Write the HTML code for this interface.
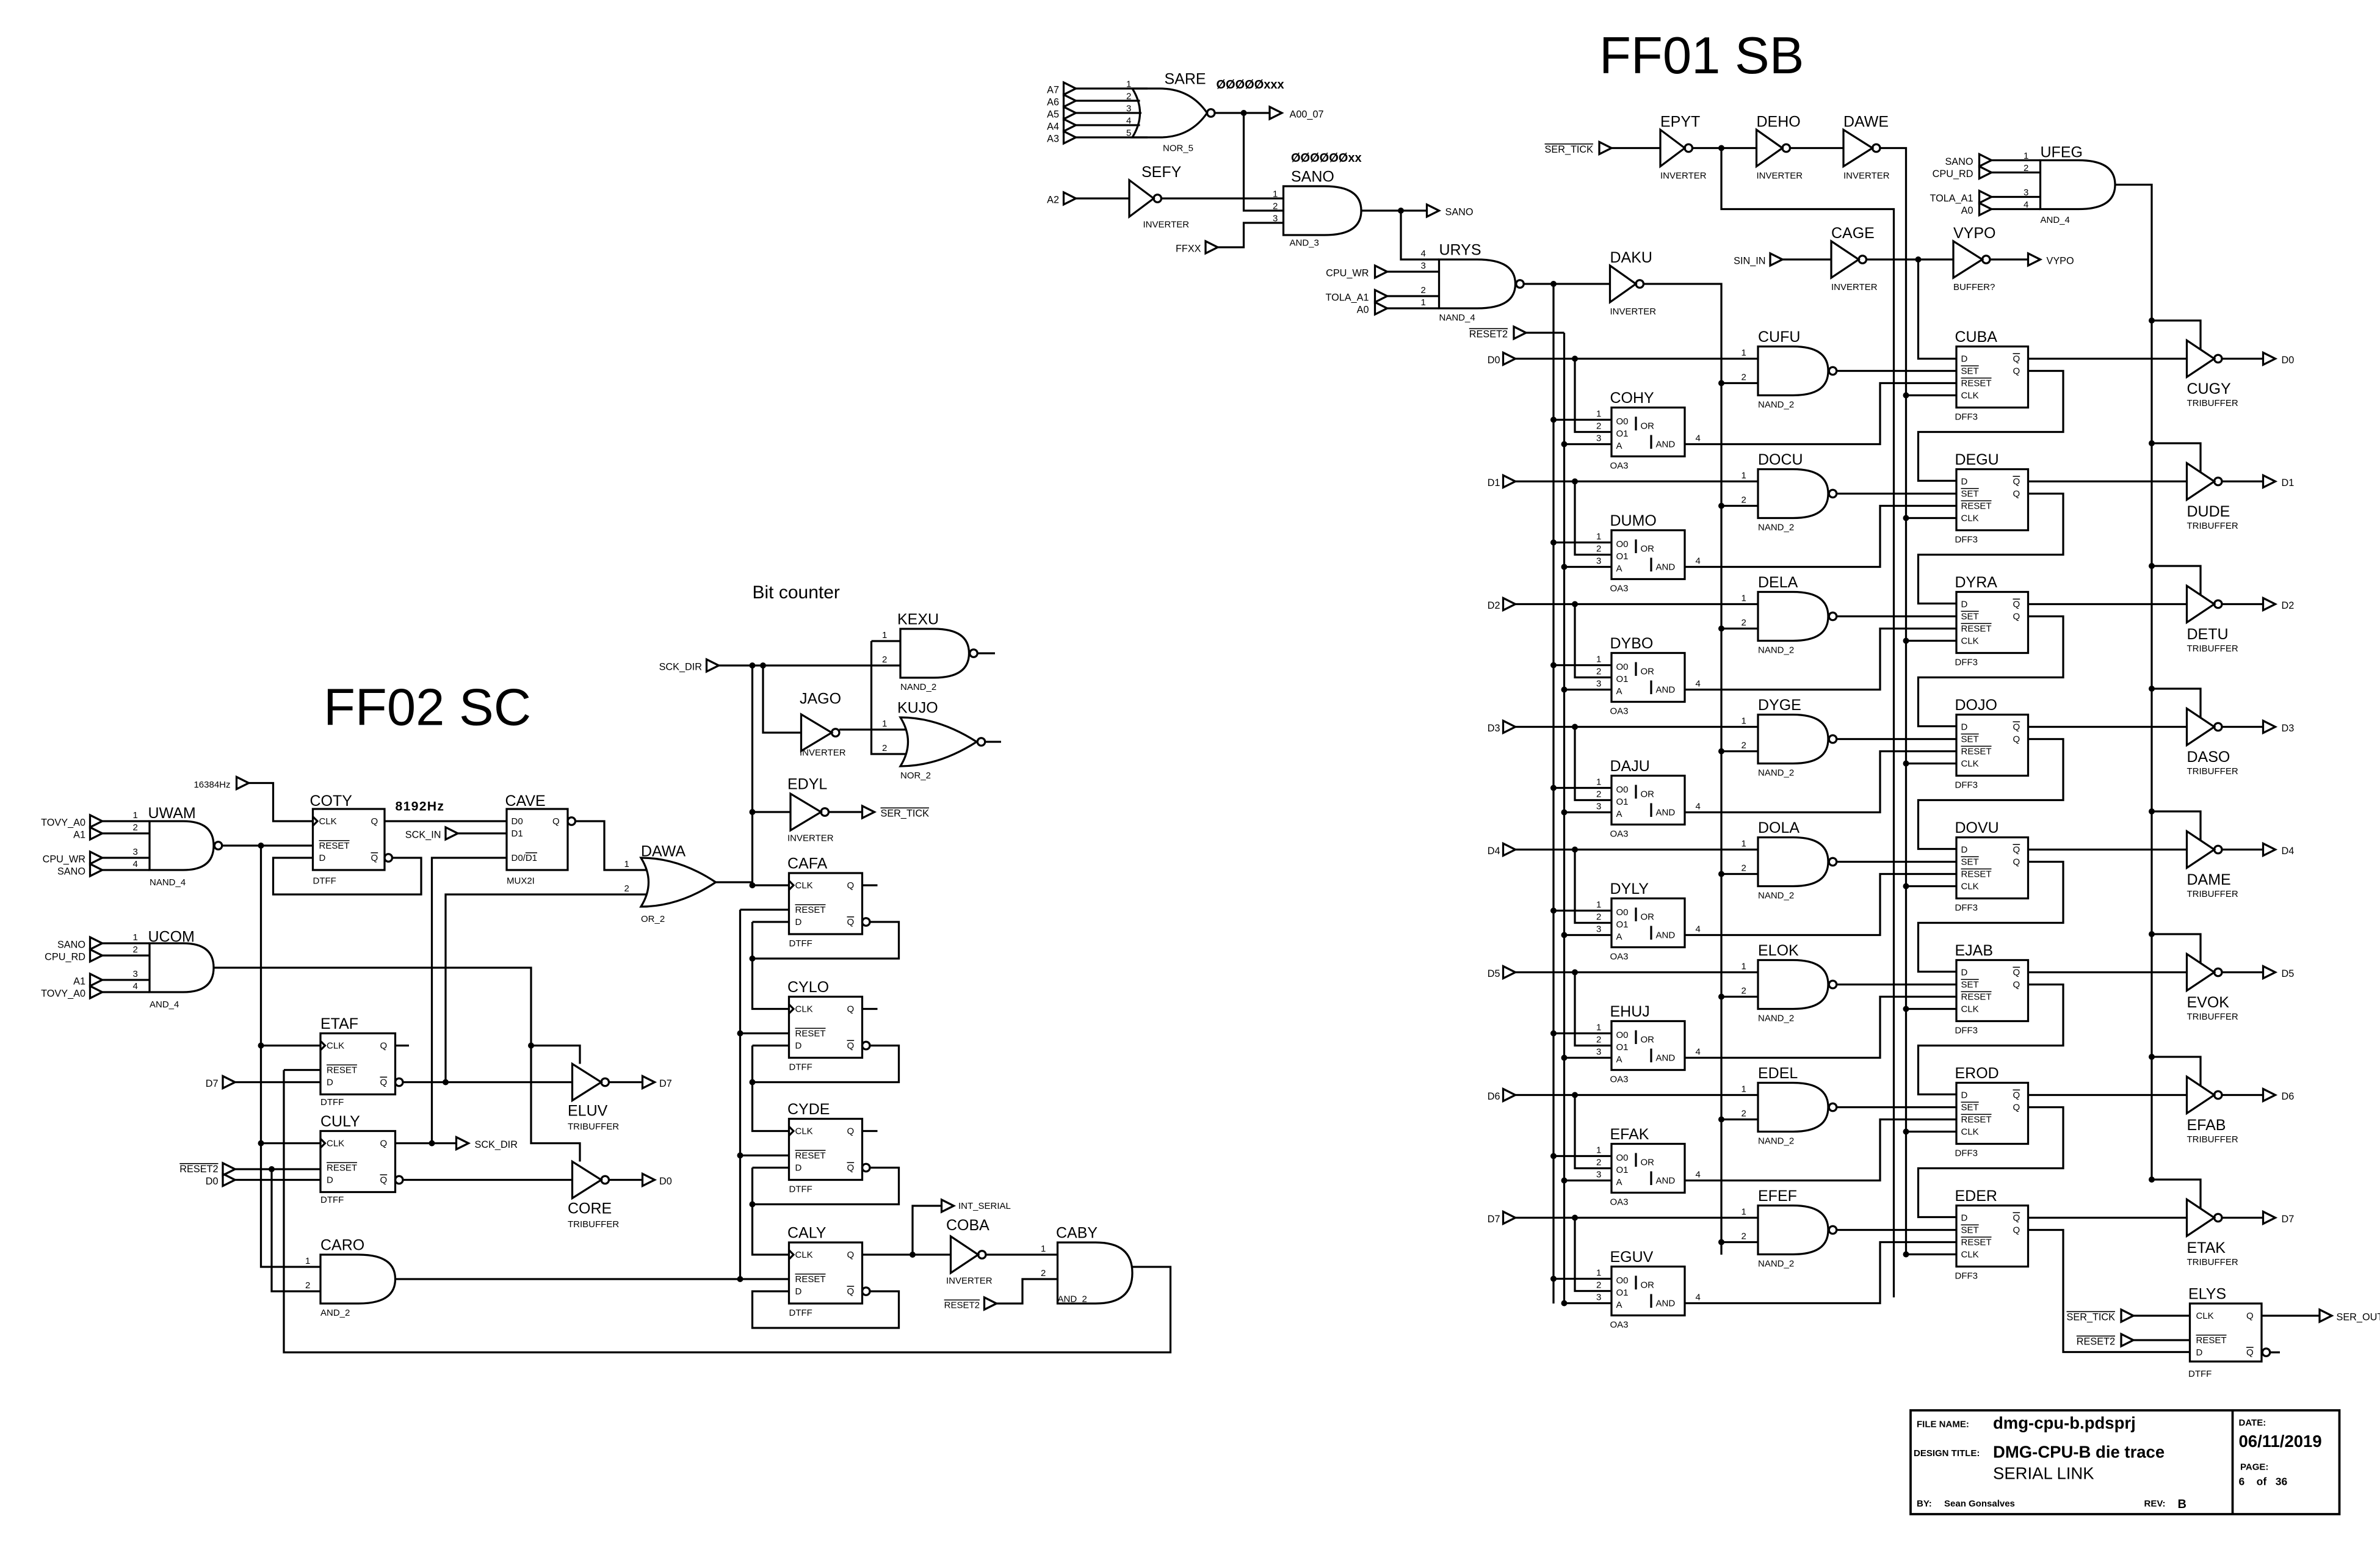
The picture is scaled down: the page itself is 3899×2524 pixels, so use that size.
<!DOCTYPE html>
<html><head><meta charset="utf-8"><style>
html,body{margin:0;padding:0;background:#fff;}
svg{display:block;}
.w path,.w rect,.w polygon,.w circle,.w line{stroke:#000;stroke-width:1.3;fill:none;}
.w circle.d{fill:#000;stroke:none;}
text{font-family:"Liberation Sans",sans-serif;fill:#000;stroke:none;}
.n{font-size:10px;}
.t{font-size:6px;}
.p{font-size:6.5px;}
.ov{text-decoration:overline;}
</style></head><body>
<svg class="w" width="3899" height="2524" viewBox="0 0 1559.6 1009.6" xmlns="http://www.w3.org/2000/svg">
<rect x="0" y="0" width="1559.6" height="1009.6" fill="#fff" style="stroke:none"/>
<text x="1048" y="48" style="font-size:34px">FF01 SB</text>
<text x="212" y="475" style="font-size:34px">FF02 SC</text>
<text x="493" y="392" style="font-size:12px">Bit counter</text>

<!-- ================= TOP: SARE / SEFY / SANO / URYS ================= -->
<polygon points="697,54 705,58 697,62"/><polygon points="697,62 705,66 697,70"/><polygon points="697,70 705,74 697,78"/><polygon points="697,78 705,82 697,86"/><polygon points="697,86 705,90 697,94"/>
<path d="M705,58H752M705,66H747M705,74H748M705,82H747M705,90H752"/>
<path d="M742,58H760Q780,58 791,74Q780,90 760,90H742Q752,74 742,58Z"/>
<circle cx="793.5" cy="74" r="2.5"/>
<path d="M796,74H832"/><polygon points="832,70 840,74 832,78"/>
<circle class="d" cx="815" cy="74" r="2"/><path d="M815,74V138H841"/>
<text class="p" x="694" y="61" text-anchor="end">A7</text><text class="p" x="694" y="69" text-anchor="end">A6</text><text class="p" x="694" y="77" text-anchor="end">A5</text><text class="p" x="694" y="85" text-anchor="end">A4</text><text class="p" x="694" y="93" text-anchor="end">A3</text>
<text class="t" x="738" y="57">1</text><text class="t" x="738" y="65">2</text><text class="t" x="738" y="73">3</text><text class="t" x="738" y="81">4</text><text class="t" x="738" y="89">5</text>
<text class="n" x="763" y="55">SARE</text><text class="t" x="762" y="99">NOR_5</text>
<text x="797" y="58" style="font-size:8px;font-weight:bold">ØØØØØxxx</text>
<text class="p" x="845" y="77">A00_07</text>
<polygon points="697,126 705,130 697,134"/><path d="M705,130H740"/>
<polygon points="740,118 756,130 740,142"/><circle cx="758.5" cy="130" r="2.5"/><path d="M761,130H841"/>
<text class="p" x="694" y="133" text-anchor="end">A2</text>
<text class="n" x="748" y="116">SEFY</text><text class="t" x="749" y="149">INVERTER</text>
<polygon points="790,158 798,162 790,166"/><path d="M798,162H815V146H841"/>
<text class="p" x="787" y="165" text-anchor="end">FFXX</text>
<path d="M841,122H868Q892,122 892,138Q892,154 868,154H841Z"/>
<text class="t" x="834" y="129">1</text><text class="t" x="834" y="137">2</text><text class="t" x="834" y="145">3</text>
<text x="846" y="106" style="font-size:8px;font-weight:bold">ØØØØØØxx</text>
<text class="n" x="846" y="119">SANO</text><text class="t" x="845" y="161">AND_3</text>
<path d="M892,138H935"/><polygon points="935,134 943,138 935,142"/><text class="p" x="947" y="141">SANO</text>
<circle class="d" cx="918" cy="138" r="2"/><path d="M918,138V170H943"/>
<path d="M943,170H968Q993,170 993,186Q993,202 968,202H943Z"/>
<circle cx="996" cy="186" r="2.5"/>
<polygon points="901,174 909,178 901,182"/><polygon points="901,190 909,194 901,198"/><polygon points="901,198 909,202 901,206"/>
<path d="M909,178H943M909,194H943M909,202H943"/>
<text class="p" x="897" y="181" text-anchor="end">CPU_WR</text><text class="p" x="897" y="197" text-anchor="end">TOLA_A1</text><text class="p" x="897" y="205" text-anchor="end">A0</text>
<text class="t" x="931" y="168">4</text><text class="t" x="931" y="176">3</text><text class="t" x="931" y="192">2</text><text class="t" x="931" y="200">1</text>
<text class="n" x="943" y="167">URYS</text><text class="t" x="943" y="210">NAND_4</text>
<path d="M999,186H1055"/><circle class="d" cx="1018" cy="186" r="2"/>
<polygon points="1055,174 1072,186 1055,198"/><circle cx="1074.5" cy="186" r="2.5"/>
<path d="M1077,186H1128V822"/>
<text class="n" x="1055" y="172">DAKU</text><text class="t" x="1055" y="206">INVERTER</text>
<polygon points="992,214 1000,218 992,222"/><path d="M1000,218H1025"/>
<text class="p ov" x="988" y="221" text-anchor="end">RESET2</text>

<!-- FF01 top chain -->
<polygon points="1048,93 1056,97 1048,101"/><path d="M1056,97H1088"/>
<text class="p ov" x="1044" y="100" text-anchor="end">SER_TICK</text>
<polygon points="1088,85 1104,97 1088,109"/><circle cx="1106.5" cy="97" r="2.5"/>
<path d="M1109,97H1151"/><circle class="d" cx="1128" cy="97" r="2"/><path d="M1128,97V137H1241V850"/>
<polygon points="1151,85 1168,97 1151,109"/><circle cx="1170.5" cy="97" r="2.5"/><path d="M1173,97H1208"/>
<polygon points="1208,85 1227,97 1208,109"/><circle cx="1229.5" cy="97" r="2.5"/><path d="M1232,97H1249V822"/>
<text class="n" x="1088" y="83">EPYT</text><text class="t" x="1088" y="117">INVERTER</text>
<text class="n" x="1151" y="83">DEHO</text><text class="t" x="1151" y="117">INVERTER</text>
<text class="n" x="1208" y="83">DAWE</text><text class="t" x="1208" y="117">INVERTER</text>
<path d="M1337,105H1362Q1386,105 1386,121Q1386,137 1362,137H1337Z"/>
<polygon points="1297,101 1305,105 1297,109"/><polygon points="1297,109 1305,113 1297,117"/><polygon points="1297,125 1305,129 1297,133"/><polygon points="1297,133 1305,137 1297,141"/>
<path d="M1305,105H1337M1305,113H1337M1305,129H1337M1305,137H1337"/>
<text class="p" x="1293" y="108" text-anchor="end">SANO</text><text class="p" x="1293" y="116" text-anchor="end">CPU_RD</text><text class="p" x="1293" y="132" text-anchor="end">TOLA_A1</text><text class="p" x="1293" y="140" text-anchor="end">A0</text>
<text class="t" x="1326" y="104">1</text><text class="t" x="1326" y="112">2</text><text class="t" x="1326" y="128">3</text><text class="t" x="1326" y="136">4</text>
<text class="n" x="1337" y="103">UFEG</text><text class="t" x="1337" y="146">AND_4</text>
<path d="M1386,121H1410V773"/>
<polygon points="1160,166 1168,170 1160,174"/><path d="M1168,170H1200"/>
<text class="p" x="1157" y="173" text-anchor="end">SIN_IN</text>
<polygon points="1200,158 1218,170 1200,182"/><circle cx="1220.5" cy="170" r="2.5"/><path d="M1223,170H1280"/>
<circle class="d" cx="1257" cy="170" r="2"/><path d="M1257,170V235H1282"/>
<polygon points="1280,158 1299,170 1280,182"/><circle cx="1301.5" cy="170" r="2.5"/><path d="M1304,170H1329"/>
<polygon points="1329,166 1337,170 1329,174"/><text class="p" x="1341" y="173">VYPO</text>
<text class="n" x="1200" y="156">CAGE</text><text class="t" x="1200" y="190">INVERTER</text>
<text class="n" x="1280" y="156">VYPO</text><text class="t" x="1280" y="190">BUFFER?</text>
<path d="M1018,186V854M1025,218V854"/>

<!-- ================= FF01 ROWS ================= -->
<defs>
<g id="rowshapes">
<polygon points="985,-4 993,0 985,4"/>
<path d="M993,0H1152M1032,0V48H1056M1018,40H1056M1025,56H1056M1104,56H1232V16H1282M1128,16H1152M1204,8H1282M1329,0H1433M1456,0H1483M1410,-25H1442V-6M1249,24H1282"/>
<rect x="1056" y="32" width="48" height="32"/>
<path d="M1072,38V47M1082,50V59"/>
<path d="M1152,-8H1175Q1198,-8 1198,8Q1198,24 1175,24H1152Z"/>
<circle cx="1201" cy="8" r="2.5"/>
<rect x="1282" y="-8" width="47" height="40"/>
<polygon points="1433,-12 1451,0 1433,12"/><circle cx="1453.5" cy="0" r="2.5"/>
<polygon points="1483,-4 1491,0 1483,4"/>
<circle class="d" cx="1032" cy="0" r="2"/><circle class="d" cx="1018" cy="40" r="2"/><circle class="d" cx="1025" cy="56" r="2"/><circle class="d" cx="1128" cy="16" r="2"/><circle class="d" cx="1249" cy="24" r="2"/><circle class="d" cx="1410" cy="-25" r="2"/>
</g>
<g id="chain"><path d="M1329,8H1352V48H1257V80H1282"/></g>
</defs>

<!-- row 0 -->
<g transform="translate(0,235)"><use href="#rowshapes"/><use href="#chain"/>
<text class="p" x="983" y="3" text-anchor="end">D0</text><text class="p" x="1495" y="3">D0</text>
<text class="n" x="1152" y="-11">CUFU</text><text class="t" x="1152" y="32">NAND_2</text><text class="t" x="1141" y="-2">1</text><text class="t" x="1141" y="14">2</text>
<text class="n" x="1055" y="29">COHY</text><text class="t" x="1055" y="72">OA3</text><text class="t" x="1059" y="43">O0</text><text class="t" x="1059" y="51">O1</text><text class="t" x="1059" y="59">A</text><text class="t" x="1075" y="46">OR</text><text class="t" x="1085" y="58">AND</text><text class="t" x="1046" y="38">1</text><text class="t" x="1046" y="46">2</text><text class="t" x="1046" y="54">3</text><text class="t" x="1111" y="54">4</text>
<text class="n" x="1281" y="-11">CUBA</text><text class="t" x="1281" y="40">DFF3</text><text class="t" x="1285" y="2">D</text><text class="t ov" x="1285" y="10">SET</text><text class="t ov" x="1285" y="18">RESET</text><text class="t" x="1285" y="26">CLK</text><text class="t ov" x="1319" y="2">Q</text><text class="t" x="1319" y="10">Q</text>
<text class="n" x="1433" y="23">CUGY</text><text class="t" x="1433" y="31">TRIBUFFER</text></g>
<!-- row 1 -->
<g transform="translate(0,315.4)"><use href="#rowshapes"/><use href="#chain"/>
<text class="p" x="983" y="3" text-anchor="end">D1</text><text class="p" x="1495" y="3">D1</text>
<text class="n" x="1152" y="-11">DOCU</text><text class="t" x="1152" y="32">NAND_2</text><text class="t" x="1141" y="-2">1</text><text class="t" x="1141" y="14">2</text>
<text class="n" x="1055" y="29">DUMO</text><text class="t" x="1055" y="72">OA3</text><text class="t" x="1059" y="43">O0</text><text class="t" x="1059" y="51">O1</text><text class="t" x="1059" y="59">A</text><text class="t" x="1075" y="46">OR</text><text class="t" x="1085" y="58">AND</text><text class="t" x="1046" y="38">1</text><text class="t" x="1046" y="46">2</text><text class="t" x="1046" y="54">3</text><text class="t" x="1111" y="54">4</text>
<text class="n" x="1281" y="-11">DEGU</text><text class="t" x="1281" y="40">DFF3</text><text class="t" x="1285" y="2">D</text><text class="t ov" x="1285" y="10">SET</text><text class="t ov" x="1285" y="18">RESET</text><text class="t" x="1285" y="26">CLK</text><text class="t ov" x="1319" y="2">Q</text><text class="t" x="1319" y="10">Q</text>
<text class="n" x="1433" y="23">DUDE</text><text class="t" x="1433" y="31">TRIBUFFER</text></g>
<!-- row 2 -->
<g transform="translate(0,395.8)"><use href="#rowshapes"/><use href="#chain"/>
<text class="p" x="983" y="3" text-anchor="end">D2</text><text class="p" x="1495" y="3">D2</text>
<text class="n" x="1152" y="-11">DELA</text><text class="t" x="1152" y="32">NAND_2</text><text class="t" x="1141" y="-2">1</text><text class="t" x="1141" y="14">2</text>
<text class="n" x="1055" y="29">DYBO</text><text class="t" x="1055" y="72">OA3</text><text class="t" x="1059" y="43">O0</text><text class="t" x="1059" y="51">O1</text><text class="t" x="1059" y="59">A</text><text class="t" x="1075" y="46">OR</text><text class="t" x="1085" y="58">AND</text><text class="t" x="1046" y="38">1</text><text class="t" x="1046" y="46">2</text><text class="t" x="1046" y="54">3</text><text class="t" x="1111" y="54">4</text>
<text class="n" x="1281" y="-11">DYRA</text><text class="t" x="1281" y="40">DFF3</text><text class="t" x="1285" y="2">D</text><text class="t ov" x="1285" y="10">SET</text><text class="t ov" x="1285" y="18">RESET</text><text class="t" x="1285" y="26">CLK</text><text class="t ov" x="1319" y="2">Q</text><text class="t" x="1319" y="10">Q</text>
<text class="n" x="1433" y="23">DETU</text><text class="t" x="1433" y="31">TRIBUFFER</text></g>
<!-- row 3 -->
<g transform="translate(0,476.2)"><use href="#rowshapes"/><use href="#chain"/>
<text class="p" x="983" y="3" text-anchor="end">D3</text><text class="p" x="1495" y="3">D3</text>
<text class="n" x="1152" y="-11">DYGE</text><text class="t" x="1152" y="32">NAND_2</text><text class="t" x="1141" y="-2">1</text><text class="t" x="1141" y="14">2</text>
<text class="n" x="1055" y="29">DAJU</text><text class="t" x="1055" y="72">OA3</text><text class="t" x="1059" y="43">O0</text><text class="t" x="1059" y="51">O1</text><text class="t" x="1059" y="59">A</text><text class="t" x="1075" y="46">OR</text><text class="t" x="1085" y="58">AND</text><text class="t" x="1046" y="38">1</text><text class="t" x="1046" y="46">2</text><text class="t" x="1046" y="54">3</text><text class="t" x="1111" y="54">4</text>
<text class="n" x="1281" y="-11">DOJO</text><text class="t" x="1281" y="40">DFF3</text><text class="t" x="1285" y="2">D</text><text class="t ov" x="1285" y="10">SET</text><text class="t ov" x="1285" y="18">RESET</text><text class="t" x="1285" y="26">CLK</text><text class="t ov" x="1319" y="2">Q</text><text class="t" x="1319" y="10">Q</text>
<text class="n" x="1433" y="23">DASO</text><text class="t" x="1433" y="31">TRIBUFFER</text></g>
<!-- row 4 -->
<g transform="translate(0,556.6)"><use href="#rowshapes"/><use href="#chain"/>
<text class="p" x="983" y="3" text-anchor="end">D4</text><text class="p" x="1495" y="3">D4</text>
<text class="n" x="1152" y="-11">DOLA</text><text class="t" x="1152" y="32">NAND_2</text><text class="t" x="1141" y="-2">1</text><text class="t" x="1141" y="14">2</text>
<text class="n" x="1055" y="29">DYLY</text><text class="t" x="1055" y="72">OA3</text><text class="t" x="1059" y="43">O0</text><text class="t" x="1059" y="51">O1</text><text class="t" x="1059" y="59">A</text><text class="t" x="1075" y="46">OR</text><text class="t" x="1085" y="58">AND</text><text class="t" x="1046" y="38">1</text><text class="t" x="1046" y="46">2</text><text class="t" x="1046" y="54">3</text><text class="t" x="1111" y="54">4</text>
<text class="n" x="1281" y="-11">DOVU</text><text class="t" x="1281" y="40">DFF3</text><text class="t" x="1285" y="2">D</text><text class="t ov" x="1285" y="10">SET</text><text class="t ov" x="1285" y="18">RESET</text><text class="t" x="1285" y="26">CLK</text><text class="t ov" x="1319" y="2">Q</text><text class="t" x="1319" y="10">Q</text>
<text class="n" x="1433" y="23">DAME</text><text class="t" x="1433" y="31">TRIBUFFER</text></g>
<!-- row 5 -->
<g transform="translate(0,637)"><use href="#rowshapes"/><use href="#chain"/>
<text class="p" x="983" y="3" text-anchor="end">D5</text><text class="p" x="1495" y="3">D5</text>
<text class="n" x="1152" y="-11">ELOK</text><text class="t" x="1152" y="32">NAND_2</text><text class="t" x="1141" y="-2">1</text><text class="t" x="1141" y="14">2</text>
<text class="n" x="1055" y="29">EHUJ</text><text class="t" x="1055" y="72">OA3</text><text class="t" x="1059" y="43">O0</text><text class="t" x="1059" y="51">O1</text><text class="t" x="1059" y="59">A</text><text class="t" x="1075" y="46">OR</text><text class="t" x="1085" y="58">AND</text><text class="t" x="1046" y="38">1</text><text class="t" x="1046" y="46">2</text><text class="t" x="1046" y="54">3</text><text class="t" x="1111" y="54">4</text>
<text class="n" x="1281" y="-11">EJAB</text><text class="t" x="1281" y="40">DFF3</text><text class="t" x="1285" y="2">D</text><text class="t ov" x="1285" y="10">SET</text><text class="t ov" x="1285" y="18">RESET</text><text class="t" x="1285" y="26">CLK</text><text class="t ov" x="1319" y="2">Q</text><text class="t" x="1319" y="10">Q</text>
<text class="n" x="1433" y="23">EVOK</text><text class="t" x="1433" y="31">TRIBUFFER</text></g>
<!-- row 6 -->
<g transform="translate(0,717.4)"><use href="#rowshapes"/><use href="#chain"/>
<text class="p" x="983" y="3" text-anchor="end">D6</text><text class="p" x="1495" y="3">D6</text>
<text class="n" x="1152" y="-11">EDEL</text><text class="t" x="1152" y="32">NAND_2</text><text class="t" x="1141" y="-2">1</text><text class="t" x="1141" y="14">2</text>
<text class="n" x="1055" y="29">EFAK</text><text class="t" x="1055" y="72">OA3</text><text class="t" x="1059" y="43">O0</text><text class="t" x="1059" y="51">O1</text><text class="t" x="1059" y="59">A</text><text class="t" x="1075" y="46">OR</text><text class="t" x="1085" y="58">AND</text><text class="t" x="1046" y="38">1</text><text class="t" x="1046" y="46">2</text><text class="t" x="1046" y="54">3</text><text class="t" x="1111" y="54">4</text>
<text class="n" x="1281" y="-11">EROD</text><text class="t" x="1281" y="40">DFF3</text><text class="t" x="1285" y="2">D</text><text class="t ov" x="1285" y="10">SET</text><text class="t ov" x="1285" y="18">RESET</text><text class="t" x="1285" y="26">CLK</text><text class="t ov" x="1319" y="2">Q</text><text class="t" x="1319" y="10">Q</text>
<text class="n" x="1433" y="23">EFAB</text><text class="t" x="1433" y="31">TRIBUFFER</text></g>
<!-- row 7 -->
<g transform="translate(0,797.8)"><use href="#rowshapes"/>
<path d="M1329,8H1352V88H1435"/>
<text class="p" x="983" y="3" text-anchor="end">D7</text><text class="p" x="1495" y="3">D7</text>
<text class="n" x="1152" y="-11">EFEF</text><text class="t" x="1152" y="32">NAND_2</text><text class="t" x="1141" y="-2">1</text><text class="t" x="1141" y="14">2</text>
<text class="n" x="1055" y="29">EGUV</text><text class="t" x="1055" y="72">OA3</text><text class="t" x="1059" y="43">O0</text><text class="t" x="1059" y="51">O1</text><text class="t" x="1059" y="59">A</text><text class="t" x="1075" y="46">OR</text><text class="t" x="1085" y="58">AND</text><text class="t" x="1046" y="38">1</text><text class="t" x="1046" y="46">2</text><text class="t" x="1046" y="54">3</text><text class="t" x="1111" y="54">4</text>
<text class="n" x="1281" y="-11">EDER</text><text class="t" x="1281" y="40">DFF3</text><text class="t" x="1285" y="2">D</text><text class="t ov" x="1285" y="10">SET</text><text class="t ov" x="1285" y="18">RESET</text><text class="t" x="1285" y="26">CLK</text><text class="t ov" x="1319" y="2">Q</text><text class="t" x="1319" y="10">Q</text>
<text class="n" x="1433" y="23">ETAK</text><text class="t" x="1433" y="31">TRIBUFFER</text></g>

<!-- ELYS -->
<rect x="1435" y="854" width="47" height="38"/>
<polygon points="1390,858 1398,862 1390,866"/><polygon points="1390,874 1398,878 1390,882"/>
<path d="M1398,862H1435M1398,878H1435M1482,862H1520M1487.5,886H1494"/>
<circle cx="1485" cy="886" r="2.5"/>
<polygon points="1520,858 1528,862 1520,866"/>
<text class="p ov" x="1386" y="865" text-anchor="end">SER_TICK</text><text class="p ov" x="1386" y="881" text-anchor="end">RESET2</text>
<text class="p" x="1531" y="865">SER_OUT</text>
<text class="n" x="1434" y="851">ELYS</text><text class="t" x="1434" y="902">DTFF</text>
<text class="t" x="1439" y="864">CLK</text><text class="t ov" x="1439" y="880">RESET</text><text class="t" x="1439" y="888">D</text><text class="t" x="1472" y="864">Q</text><text class="t ov" x="1472" y="888">Q</text>

<!-- Title block -->
<rect x="1252" y="924" width="281" height="68" style="stroke-width:1.5"/>
<path d="M1463,924V992" style="stroke-width:1.5"/>
<text x="1256" y="935" style="font-size:6px;font-weight:bold">FILE NAME:</text>
<text x="1306" y="936" style="font-size:11px;font-weight:bold">dmg-cpu-b.pdsprj</text>
<text x="1254" y="954" style="font-size:6px;font-weight:bold">DESIGN TITLE:</text>
<text x="1306" y="955" style="font-size:11px;font-weight:bold">DMG-CPU-B die trace</text>
<text x="1306" y="969" style="font-size:11px">SERIAL LINK</text>
<text x="1256" y="987" style="font-size:6px;font-weight:bold">BY:</text>
<text x="1274" y="987" style="font-size:6px;font-weight:bold">Sean Gonsalves</text>
<text x="1405" y="987" style="font-size:6px;font-weight:bold">REV:</text>
<text x="1427" y="988" style="font-size:8px;font-weight:bold">B</text>
<text x="1467" y="934" style="font-size:6px;font-weight:bold">DATE:</text>
<text x="1467" y="948" style="font-size:11px;font-weight:bold">06/11/2019</text>
<text x="1468" y="963" style="font-size:6px;font-weight:bold">PAGE:</text>
<text x="1467" y="973" style="font-size:7px;font-weight:bold">6 &#160;&#160; of &#160;&#160;36</text>

<!-- ================= FF02 SC ================= -->
<!-- UWAM -->
<polygon points="59,534 67,538 59,542"/><polygon points="59,542 67,546 59,550"/><polygon points="59,558 67,562 59,566"/><polygon points="59,566 67,570 59,574"/>
<path d="M67,538H98M67,546H98M67,562H98M67,570H98"/>
<path d="M98,538H120Q140,538 140,554Q140,570 120,570H98Z"/>
<circle cx="143" cy="554" r="2.5"/>
<path d="M145.5,554H205"/><circle class="d" cx="171" cy="554" r="2"/>
<text class="p" x="56" y="541" text-anchor="end">TOVY_A0</text><text class="p" x="56" y="549" text-anchor="end">A1</text><text class="p" x="56" y="565" text-anchor="end">CPU_WR</text><text class="p" x="56" y="573" text-anchor="end">SANO</text>
<text class="t" x="87" y="536">1</text><text class="t" x="87" y="544">2</text><text class="t" x="87" y="560">3</text><text class="t" x="87" y="568">4</text>
<text class="n" x="97" y="536">UWAM</text><text class="t" x="98" y="580">NAND_4</text>
<!-- COTY -->
<polygon points="155,509 163,513 155,517"/><path d="M163,513H179V538H205"/>
<text class="t" x="151" y="516" text-anchor="end">16384Hz</text>
<rect x="205" y="530" width="47" height="40"/>
<path d="M205,535L208,538L205,541"/>
<circle cx="254.5" cy="562" r="2.5"/>
<path d="M257,562H276V586H179V562H205"/>
<text class="t" x="209" y="540">CLK</text><text class="t ov" x="209" y="556">RESET</text><text class="t" x="209" y="564">D</text><text class="t" x="243" y="540">Q</text><text class="t ov" x="243" y="564">Q</text>
<text class="n" x="203" y="528">COTY</text><text class="t" x="205" y="579">DTFF</text>
<text x="259" y="531" style="font-size:8.5px;font-weight:bold;letter-spacing:0.5px">8192Hz</text>
<path d="M252,538H332"/>
<!-- CAVE -->
<rect x="332" y="530" width="40" height="40"/>
<polygon points="292,542 300,546 292,550"/><path d="M300,546H332"/>
<text class="p" x="289" y="549" text-anchor="end">SCK_IN</text>
<path d="M283,749V562H332"/>
<circle cx="374.5" cy="538" r="2.5"/>
<path d="M377,538H396V570H424"/>
<text class="t" x="335" y="540">D0</text><text class="t" x="335" y="548">D1</text><text class="t" x="335" y="564">D0/<tspan class="ov">D1</tspan></text><text class="t" x="362" y="540">Q</text>
<text class="n" x="331" y="528">CAVE</text><text class="t" x="332" y="579">MUX2I</text>
<!-- DAWA -->
<path d="M420,562Q445,562 469,578Q445,594 420,594Q430,578 420,562Z"/>
<path d="M292,709V586H424"/>
<text class="t" x="409" y="568">1</text><text class="t" x="409" y="584">2</text>
<text class="n" x="420" y="561">DAWA</text><text class="t" x="420" y="604">OR_2</text>
<path d="M469,578H493"/><circle class="d" cx="493" cy="580" r="2"/>
<!-- UCOM -->
<polygon points="59,614 67,618 59,622"/><polygon points="59,622 67,626 59,630"/><polygon points="59,638 67,642 59,646"/><polygon points="59,646 67,650 59,654"/>
<path d="M67,618H98M67,626H98M67,642H98M67,650H98"/>
<path d="M98,618H120Q140,618 140,634Q140,650 120,650H98Z"/>
<text class="p" x="56" y="621" text-anchor="end">SANO</text><text class="p" x="56" y="629" text-anchor="end">CPU_RD</text><text class="p" x="56" y="645" text-anchor="end">A1</text><text class="p" x="56" y="653" text-anchor="end">TOVY_A0</text>
<text class="t" x="87" y="616">1</text><text class="t" x="87" y="624">2</text><text class="t" x="87" y="640">3</text><text class="t" x="87" y="648">4</text>
<text class="n" x="97" y="617">UCOM</text><text class="t" x="98" y="660">AND_4</text>
<path d="M140,634H348V749H380V761"/>
<circle class="d" cx="348" cy="685" r="2"/><path d="M348,685H380V697"/>
<!-- buses -->
<path d="M171,554V830H210"/>
<circle class="d" cx="171" cy="685" r="2"/><circle class="d" cx="171" cy="749" r="2"/>
<path d="M171,685H210M171,749H210"/>
<!-- ETAF -->
<rect x="210" y="677" width="49" height="40"/>
<path d="M210,682L213,685L210,688M210,741"/>
<path d="M259,685H268"/>
<circle cx="261.5" cy="709" r="2.5"/><path d="M264,709H375"/><circle class="d" cx="292" cy="709" r="2"/>
<polygon points="146,705 154,709 146,713"/><path d="M154,709H210"/>
<text class="p" x="143" y="712" text-anchor="end">D7</text>
<text class="t" x="214" y="687">CLK</text><text class="t ov" x="214" y="703">RESET</text><text class="t" x="214" y="711">D</text><text class="t" x="249" y="687">Q</text><text class="t ov" x="249" y="711">Q</text>
<text class="n" x="210" y="674">ETAF</text><text class="t" x="210" y="724">DTFF</text>
<!-- CULY -->
<rect x="210" y="741" width="49" height="40"/>
<path d="M210,746L213,749L210,752"/>
<path d="M259,749H299"/><circle class="d" cx="283" cy="749" r="2"/>
<polygon points="299,745 307,749 299,753"/><text class="p" x="311" y="752">SCK_DIR</text>
<circle cx="261.5" cy="773" r="2.5"/><path d="M264,773H375"/>
<polygon points="146,762 154,766 146,770"/><polygon points="146,769 154,773 146,777"/>
<path d="M154,766H210M154,773H210"/><circle class="d" cx="178" cy="766" r="2"/>
<path d="M178,766V846H210"/>
<text class="p ov" x="143" y="768" text-anchor="end">RESET2</text><text class="p" x="143" y="776" text-anchor="end">D0</text>
<text class="t" x="214" y="751">CLK</text><text class="t ov" x="214" y="767">RESET</text><text class="t" x="214" y="775">D</text><text class="t" x="249" y="751">Q</text><text class="t ov" x="249" y="775">Q</text>
<text class="n" x="210" y="738">CULY</text><text class="t" x="210" y="788">DTFF</text>
<!-- ELUV / CORE -->
<polygon points="375,697 394,709 375,721"/><circle cx="396.5" cy="709" r="2.5"/><path d="M399,709H421"/>
<polygon points="421,705 429,709 421,713"/><text class="p" x="432" y="712">D7</text>
<text class="n" x="372" y="731">ELUV</text><text class="t" x="372" y="740">TRIBUFFER</text>
<polygon points="375,761 394,773 375,785"/><circle cx="396.5" cy="773" r="2.5"/><path d="M399,773H421"/>
<polygon points="421,769 429,773 421,777"/><text class="p" x="432" y="776">D0</text>
<text class="n" x="372" y="795">CORE</text><text class="t" x="372" y="804">TRIBUFFER</text>
<!-- CARO -->
<path d="M210,822H235Q259,822 259,838Q259,854 235,854H210Z"/>
<text class="t" x="200" y="828">1</text><text class="t" x="200" y="844">2</text>
<text class="n" x="210" y="819">CARO</text><text class="t" x="210" y="862">AND_2</text>
<path d="M259,838H517"/><circle class="d" cx="485" cy="838" r="2"/>
<path d="M186,701H210M186,701V886H767V830H742"/>
<!-- counter buses -->
<path d="M485,596V838"/><path d="M485,596H517"/>
<circle class="d" cx="485" cy="677" r="2"/><circle class="d" cx="485" cy="757" r="2"/>
<path d="M485,677H517M485,757H517"/>
<path d="M493,437V580H517"/>
<!-- CAFA c=580 -->
<rect x="517" y="572" width="48" height="40"/><path d="M517,577L520,580L517,583M565,580H575"/>
<circle cx="567.5" cy="604" r="2.5"/><path d="M570,604H589V628H493M493,604H517M493,604V661H517"/>
<circle class="d" cx="493" cy="628" r="2"/>
<text class="t" x="521" y="582">CLK</text><text class="t ov" x="521" y="598">RESET</text><text class="t" x="521" y="606">D</text><text class="t" x="555" y="582">Q</text><text class="t ov" x="555" y="606">Q</text>
<text class="n" x="516" y="569">CAFA</text><text class="t" x="517" y="620">DTFF</text>
<!-- CYLO c=661 -->
<rect x="517" y="653" width="48" height="40"/><path d="M517,658L520,661L517,664M565,661H575"/>
<circle cx="567.5" cy="685" r="2.5"/><path d="M570,685H589V709H493M493,685H517M493,685V741H517"/>
<circle class="d" cx="493" cy="709" r="2"/>
<text class="t" x="521" y="663">CLK</text><text class="t ov" x="521" y="679">RESET</text><text class="t" x="521" y="687">D</text><text class="t" x="555" y="663">Q</text><text class="t ov" x="555" y="687">Q</text>
<text class="n" x="516" y="650">CYLO</text><text class="t" x="517" y="701">DTFF</text>
<!-- CYDE c=741 -->
<rect x="517" y="733" width="48" height="40"/><path d="M517,738L520,741L517,744M565,741H575"/>
<circle cx="567.5" cy="765" r="2.5"/><path d="M570,765H589V789H493M493,765H517M493,765V822H517"/>
<circle class="d" cx="493" cy="789" r="2"/>
<text class="t" x="521" y="743">CLK</text><text class="t ov" x="521" y="759">RESET</text><text class="t" x="521" y="767">D</text><text class="t" x="555" y="743">Q</text><text class="t ov" x="555" y="767">Q</text>
<text class="n" x="516" y="730">CYDE</text><text class="t" x="517" y="781">DTFF</text>
<!-- CALY c=822 -->
<rect x="517" y="814" width="48" height="40"/><path d="M517,819L520,822L517,825"/>
<circle cx="567.5" cy="846" r="2.5"/><path d="M570,846H589V870H493V846H517"/>
<text class="t" x="521" y="824">CLK</text><text class="t ov" x="521" y="840">RESET</text><text class="t" x="521" y="848">D</text><text class="t" x="555" y="824">Q</text><text class="t ov" x="555" y="848">Q</text>
<text class="n" x="516" y="811">CALY</text><text class="t" x="517" y="862">DTFF</text>
<path d="M565,822H623"/><circle class="d" cx="598" cy="822" r="2"/>
<path d="M598,822V790H617"/><polygon points="617,786 625,790 617,794"/><text class="t" x="628" y="792">INT_SERIAL</text>
<!-- COBA / CABY -->
<polygon points="623,810 641,822 623,834"/><circle cx="643.5" cy="822" r="2.5"/><path d="M646,822H693"/>
<text class="n" x="620" y="806">COBA</text><text class="t" x="620" y="841">INVERTER</text>
<path d="M693,814H718Q742,814 742,834Q742,854 718,854H693Z"/>
<text class="t" x="682" y="820">1</text><text class="t" x="682" y="836">2</text>
<text class="n" x="692" y="811">CABY</text><text class="t" x="693" y="853">AND_2</text>
<path d="M693,838H670V854H653"/><polygon points="645,850 653,854 645,858"/>
<text class="t ov" x="642" y="857" text-anchor="end">RESET2</text>
<!-- KEXU / JAGO / KUJO / EDYL -->
<polygon points="463,432 471,436 463,440"/><text class="p" x="460" y="439" text-anchor="end">SCK_DIR</text>
<path d="M471,436H590"/><circle class="d" cx="493" cy="436" r="2"/><circle class="d" cx="500" cy="436" r="2"/>
<path d="M590,412H612Q635,412 635,428Q635,444 612,444H590Z"/>
<circle cx="638" cy="428" r="2.5"/><path d="M640.5,428H652"/>
<text class="t" x="578" y="418">1</text><text class="t" x="578" y="434">2</text>
<text class="n" x="588" y="409">KEXU</text><text class="t" x="590" y="452">NAND_2</text>
<path d="M571,420H590M571,420V494H594"/>
<path d="M500,436V480H525"/>
<polygon points="525,468 545,480 525,492"/><circle cx="547.5" cy="480" r="2.5"/><path d="M550,478H594"/>
<text class="n" x="524" y="461">JAGO</text><text class="t" x="524" y="495">INVERTER</text>
<path d="M590,470Q615,470 640,486Q615,502 590,502Q600,486 590,470Z"/>
<circle cx="643" cy="486" r="2.5"/><path d="M645.5,486H656"/>
<text class="t" x="578" y="476">1</text><text class="t" x="578" y="492">2</text>
<text class="n" x="588" y="467">KUJO</text><text class="t" x="590" y="510">NOR_2</text>
<circle class="d" cx="493" cy="532" r="2"/><path d="M493,532H518"/>
<polygon points="518,520 538,532 518,544"/><circle cx="540.5" cy="532" r="2.5"/><path d="M543,532H565"/>
<polygon points="565,528 573,532 565,536"/><text class="p ov" x="577" y="535">SER_TICK</text>
<text class="n" x="516" y="517">EDYL</text><text class="t" x="516" y="551">INVERTER</text>
</svg>
</body></html>
